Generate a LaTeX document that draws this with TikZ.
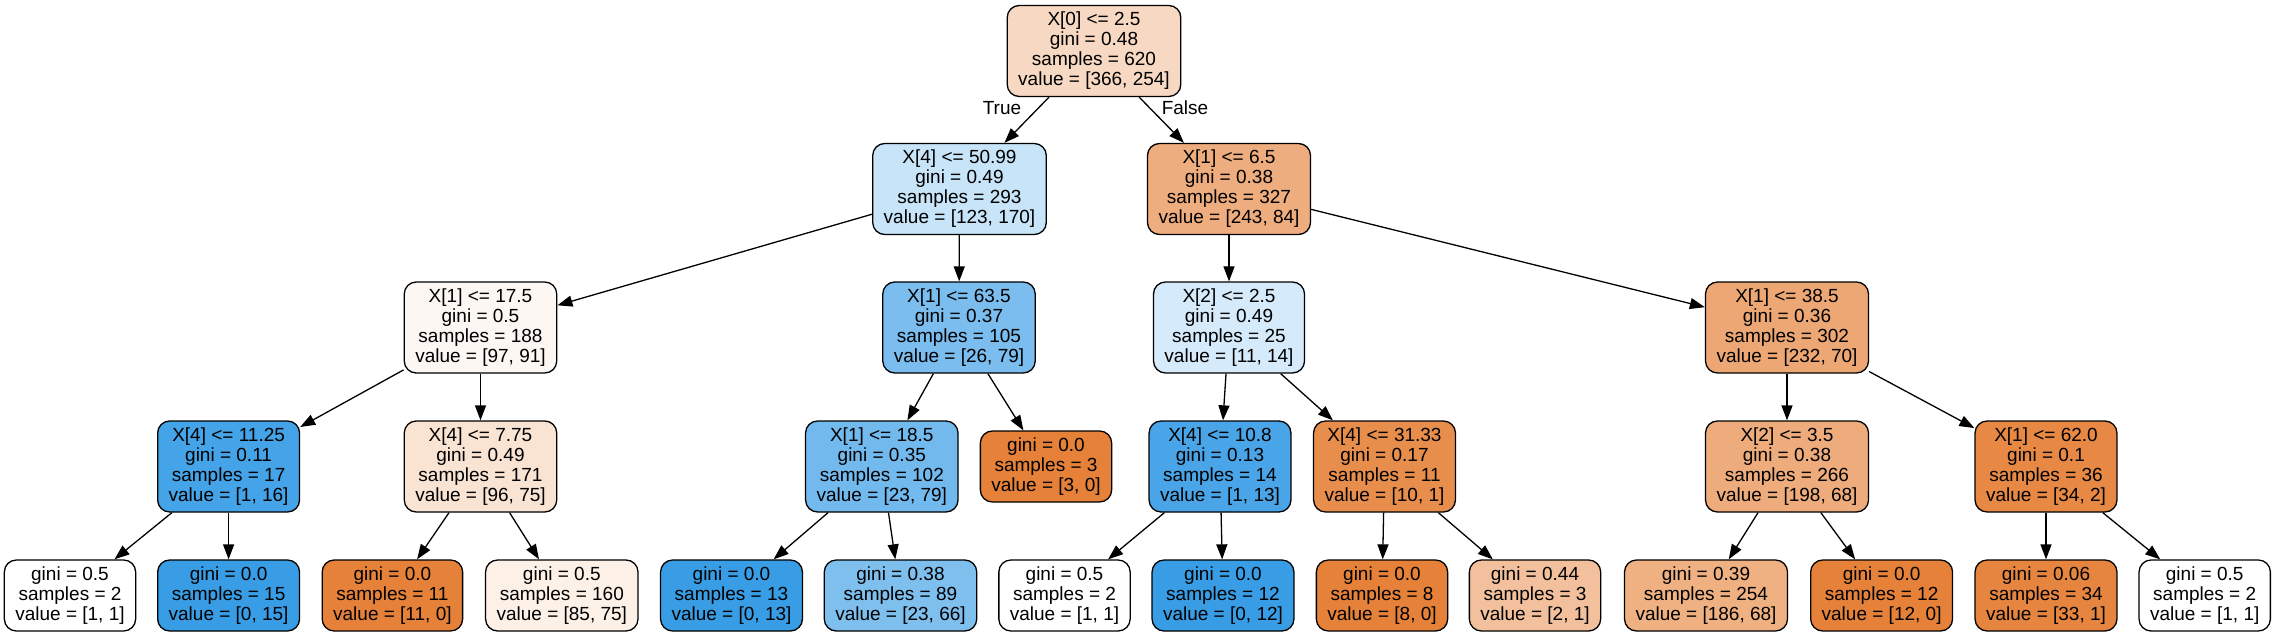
\documentclass[tikz,border=0pt]{standalone}
\usepackage{fontspec}
\setmainfont{Liberation Sans}
\usetikzlibrary{arrows.meta}
\definecolor{clsa}{RGB}{229,129,57}
\definecolor{clsb}{RGB}{57,157,229}
\begin{document}
\begin{tikzpicture}[x=0.5pt,y=-0.5pt,
        testnode/.style={draw=black, line width=0.65pt, rounded corners=6pt, align=center,
          inner xsep=5.5pt, inner ysep=0pt, minimum height=45.5pt,
          font=\fontsize{9.5}{10}\selectfont},
        leafnode/.style={testnode, minimum height=35.5pt},
        edgelabel/.style={inner sep=0pt, font=\fontsize{9.5}{10}\selectfont},
        arr/.style={draw=black, line width=0.65pt, -{Triangle[length=7.5pt,width=5.5pt]}}]
        \fill [white] (0,0) rectangle (2275,636);
        \useasboundingbox (0,0) rectangle (2275,636);
        \node [testnode, fill=clsa!31] (n0) at (1094,51) {X[0] <= 2.5\\gini = 0.48\\samples = 620\\value = [366, 254]};
        \node [testnode, fill=clsb!28] (n1) at (959.5,189) {X[4] <= 50.99\\gini = 0.49\\samples = 293\\value = [123, 170]};
        \node [testnode, fill=clsa!65] (n2) at (1229,189) {X[1] <= 6.5\\gini = 0.38\\samples = 327\\value = [243, 84]};
        \node [testnode, fill=clsa!6] (n3) at (480.5,327.5) {X[1] <= 17.5\\gini = 0.5\\samples = 188\\value = [97, 91]};
        \node [testnode, fill=clsb!67] (n4) at (959,327.5) {X[1] <= 63.5\\gini = 0.37\\samples = 105\\value = [26, 79]};
        \node [testnode, fill=clsb!21] (n5) at (1229,327.5) {X[2] <= 2.5\\gini = 0.49\\samples = 25\\value = [11, 14]};
        \node [testnode, fill=clsa!70] (n6) at (1787,327.5) {X[1] <= 38.5\\gini = 0.36\\samples = 302\\value = [232, 70]};
        \node [testnode, fill=clsb!94] (n7) at (228.6,466.5) {X[4] <= 11.25\\gini = 0.11\\samples = 17\\value = [1, 16]};
        \node [testnode, fill=clsa!22] (n8) at (480.5,466.5) {X[4] <= 7.75\\gini = 0.49\\samples = 171\\value = [96, 75]};
        \node [testnode, fill=clsb!71] (n9) at (881.8,466.5) {X[1] <= 18.5\\gini = 0.35\\samples = 102\\value = [23, 79]};
        \node [leafnode, fill=clsa] (n10) at (1046,466.5) {gini = 0.0\\samples = 3\\value = [3, 0]};
        \node [testnode, fill=clsb!92] (n11) at (1220,466.5) {X[4] <= 10.8\\gini = 0.13\\samples = 14\\value = [1, 13]};
        \node [testnode, fill=clsa!90] (n12) at (1384.5,466.5) {X[4] <= 31.33\\gini = 0.17\\samples = 11\\value = [10, 1]};
        \node [testnode, fill=clsa!66] (n13) at (1787,466.5) {X[2] <= 3.5\\gini = 0.38\\samples = 266\\value = [198, 68]};
        \node [testnode, fill=clsa!94] (n14) at (2046,466.5) {X[1] <= 62.0\\gini = 0.1\\samples = 36\\value = [34, 2]};
        \node [leafnode, fill=white] (n15) at (70,595.5) {gini = 0.5\\samples = 2\\value = [1, 1]};
        \node [leafnode, fill=clsb] (n16) at (228.6,595.5) {gini = 0.0\\samples = 15\\value = [0, 15]};
        \node [leafnode, fill=clsa] (n17) at (392.4,595.5) {gini = 0.0\\samples = 11\\value = [11, 0]};
        \node [leafnode, fill=clsa!12] (n18) at (561.8,595.5) {gini = 0.5\\samples = 160\\value = [85, 75]};
        \node [leafnode, fill=clsb] (n19) at (731.5,595.5) {gini = 0.0\\samples = 13\\value = [0, 13]};
        \node [leafnode, fill=clsb!65] (n20) at (900.5,595.5) {gini = 0.38\\samples = 89\\value = [23, 66]};
        \node [leafnode, fill=white] (n21) at (1064.5,595.5) {gini = 0.5\\samples = 2\\value = [1, 1]};
        \node [leafnode, fill=clsb] (n22) at (1223,595.5) {gini = 0.0\\samples = 12\\value = [0, 12]};
        \node [leafnode, fill=clsa] (n23) at (1382,595.5) {gini = 0.0\\samples = 8\\value = [8, 0]};
        \node [leafnode, fill=clsa!50] (n24) at (1535,595.5) {gini = 0.44\\samples = 3\\value = [2, 1]};
        \node [leafnode, fill=clsa!63] (n25) at (1706,595.5) {gini = 0.39\\samples = 254\\value = [186, 68]};
        \node [leafnode, fill=clsa] (n26) at (1881.6,595.5) {gini = 0.0\\samples = 12\\value = [12, 0]};
        \node [leafnode, fill=clsa!97] (n27) at (2046,595.5) {gini = 0.06\\samples = 34\\value = [33, 1]};
        \node [leafnode, fill=white] (n28) at (2204.7,595.5) {gini = 0.5\\samples = 2\\value = [1, 1]};
        \node [edgelabel] (ltrue) at (1002,108) {True};
        \node [edgelabel] (lfalse) at (1185,108) {False};
        \draw [arr] (n0) -- (n1);
        \draw [arr] (n0) -- (n2);
        \draw [arr] (n1) -- (n3);
        \draw [arr] (n1) -- (n4);
        \draw [arr] (n2) -- (n5);
        \draw [arr] (n2) -- (n6);
        \draw [arr] (n3) -- (n7);
        \draw [arr] (n3) -- (n8);
        \draw [arr] (n4) -- (n9);
        \draw [arr] (n4) -- (n10);
        \draw [arr] (n5) -- (n11);
        \draw [arr] (n5) -- (n12);
        \draw [arr] (n6) -- (n13);
        \draw [arr] (n6) -- (n14);
        \draw [arr] (n7) -- (n15);
        \draw [arr] (n7) -- (n16);
        \draw [arr] (n8) -- (n17);
        \draw [arr] (n8) -- (n18);
        \draw [arr] (n9) -- (n19);
        \draw [arr] (n9) -- (n20);
        \draw [arr] (n11) -- (n21);
        \draw [arr] (n11) -- (n22);
        \draw [arr] (n12) -- (n23);
        \draw [arr] (n12) -- (n24);
        \draw [arr] (n13) -- (n25);
        \draw [arr] (n13) -- (n26);
        \draw [arr] (n14) -- (n27);
        \draw [arr] (n14) -- (n28);
\end{tikzpicture}
\end{document}
